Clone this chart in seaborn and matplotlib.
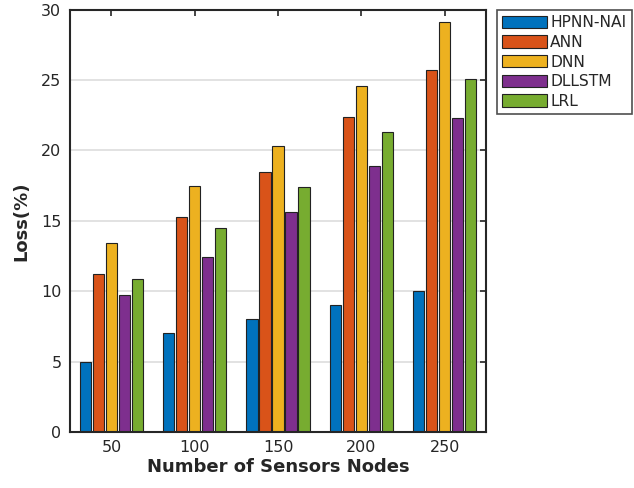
import matplotlib
matplotlib.use("Agg")
import matplotlib.pyplot as plt
import seaborn as sns
import pandas as pd

# data
nodes = ["50", "100", "150", "200", "250"]
methods = ["HPNN-NAI", "ANN", "DNN", "DLLSTM", "LRL"]
hpnn = [5.0, 7.0, 8.0, 9.05, 10.0]
ann = [11.2, 15.3, 18.5, 22.4, 25.7]
dnn = [13.4, 17.5, 20.3, 24.6, 29.1]
dllstm = [9.75, 12.4, 15.6, 18.9, 22.3]
lrl = [10.9, 14.5, 17.4, 21.3, 25.1]
colors = ["#0072BD", "#D95319", "#EDB120", "#7E2F8E", "#77AC30"]

rows = []
for name, vals in zip(methods, [hpnn, ann, dnn, dllstm, lrl]):
    for n, v in zip(nodes, vals):
        rows.append({"Nodes": n, "Method": name, "Loss": v})
df = pd.DataFrame(rows)

sns.set_theme(style="white")
plt.rcParams['font.family'] = ['DejaVu Sans']

fig = plt.figure(figsize=(6.34, 4.88), dpi=100)
ax = fig.add_axes([0.110, 0.115, 0.657, 0.865])

sns.barplot(data=df, x="Nodes", y="Loss", hue="Method", order=nodes,
            hue_order=methods, palette=colors, saturation=1, width=0.78,
            gap=0.14, edgecolor="#222222", linewidth=0.8, ax=ax)

ax.set_ylim(0, 30)
ax.set_xlim(-0.5, 4.5)
ax.set_yticks(range(0, 31, 5))
ax.yaxis.grid(True, color="#dddddd", linewidth=1.2)
ax.set_axisbelow(True)

ax.tick_params(axis="both", direction="in", length=4, width=1.2,
               top=True, right=True, labelsize=11.5, colors="#262626",
               pad=6)
for s in ax.spines.values():
    s.set_color("#262626")
    s.set_linewidth(1.5)

ax.set_xlabel("Number of Sensors Nodes", fontsize=13, fontweight="bold",
              color="#262626", labelpad=2)
ax.set_ylabel("Loss(%)", fontsize=13, fontweight="bold", color="#262626",
              labelpad=8)

leg = ax.legend(loc="upper left", bbox_to_anchor=(1.025, 1.0), fontsize=11.2,
                frameon=True, fancybox=False, edgecolor="#222222",
                handlelength=2.9, handleheight=0.85, handletextpad=0.2,
                labelspacing=0.3, borderpad=0.35, borderaxespad=0)
leg.get_frame().set_linewidth(1.2)

fig.savefig("out.png", dpi=100)
